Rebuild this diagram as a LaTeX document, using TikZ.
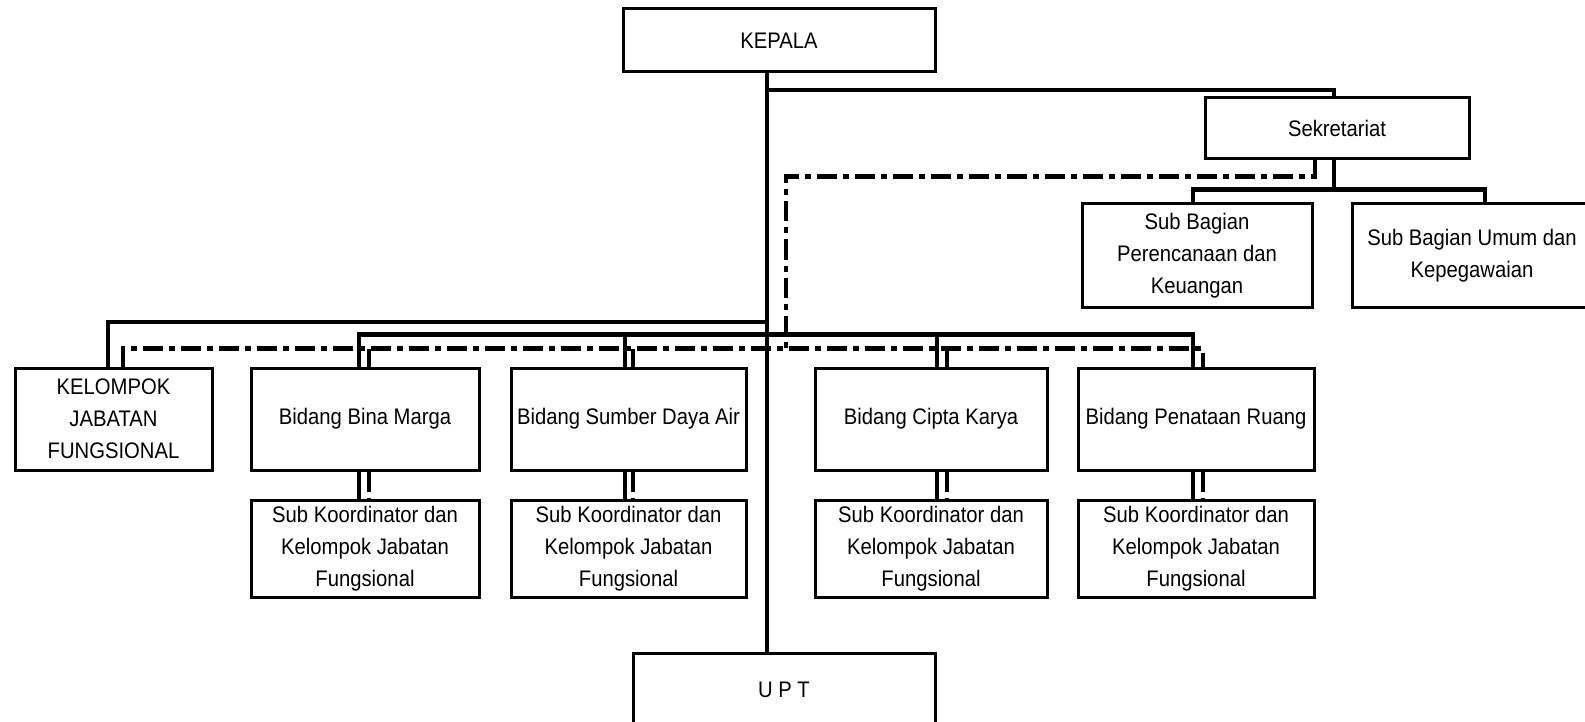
\documentclass[tikz,border=0pt]{standalone}
\usepackage{fontspec}
\setmainfont[FakeStretch=0.9]{Liberation Sans}
\begin{document}
\begin{tikzpicture}[x=1pt,y=-1pt,
  box/.style={draw,line width=3pt,rectangle,align=center,inner sep=0pt,
    font=\fontsize{22.5}{32}\selectfont},
  conn/.style={line width=4.5pt},
  dd/.style={line width=4.5pt,dash pattern=on 20pt off 6pt on 6pt off 6pt}]
\useasboundingbox (0,0) rectangle (1585,722);
\clip (0,0) rectangle (1585,722);
% boxes
\node[box,minimum width=312,minimum height=63] (kepala) at (779,40.5) {KEPALA};
\node[box,minimum width=264,minimum height=61] (sek) at (1337,128.5) {Sekretariat};
\node[box,minimum width=230,minimum height=103] (sbp) at (1197,255.5) {Sub Bagian\\Perencanaan dan\\Keuangan};
\node[box,minimum width=240,minimum height=103] (sbu) at (1472,255.5) {Sub Bagian Umum dan\\Kepegawaian};
\node[box,minimum width=197,minimum height=102] (kjf) at (113.5,419) {KELOMPOK\\JABATAN\\FUNGSIONAL};
\node[box,minimum width=228,minimum height=102] (bbm) at (365,419) {Bidang Bina Marga};
\node[box,minimum width=235,minimum height=102] (bsda) at (628.5,419) {Bidang Sumber Daya Air};
\node[box,minimum width=232,minimum height=102] (bck) at (931,419) {Bidang Cipta Karya};
\node[box,minimum width=236,minimum height=102] (bpr) at (1196,419) {Bidang Penataan Ruang};
\node[box,minimum width=228,minimum height=97] (skbm) at (365,548.5) {Sub Koordinator dan\\Kelompok Jabatan\\Fungsional};
\node[box,minimum width=235,minimum height=97] (sksda) at (628.5,548.5) {Sub Koordinator dan\\Kelompok Jabatan\\Fungsional};
\node[box,minimum width=232,minimum height=97] (skck) at (931,548.5) {Sub Koordinator dan\\Kelompok Jabatan\\Fungsional};
\node[box,minimum width=236,minimum height=97] (skpr) at (1196,548.5) {Sub Koordinator dan\\Kelompok Jabatan\\Fungsional};
\node[box,minimum width=302,minimum height=74] (upt) at (784,690) {U P T};
% junction coordinates
\coordinate (jtop) at (767,90);
\coordinate (jleft) at (767,322);
\coordinate (jdd) at (786,350);
% solid connectors
\draw[conn] ([xshift=-12pt]kepala.south) -- ([xshift=-17pt]upt.north);
\draw[conn] (jtop) -| ([xshift=-3pt]sek.north);
\draw[conn] ([xshift=-3pt]sek.south) -- ++(0,32);
\draw[conn] ([xshift=-4pt]sbp.north) -- ++(0,-13) -| ([xshift=13pt]sbu.north);
\draw[conn] ([xshift=-5.5pt]kjf.north) |- (jleft);
\draw[conn] ([xshift=-6pt]bbm.north) -- ++(0,-32) -| ([xshift=-3pt]bpr.north);
\draw[conn] ([xshift=-3.5pt]bsda.north) -- ++(0,-32);
\draw[conn] ([xshift=6pt]bck.north) -- ++(0,-32);
% dash-dot connectors
\draw[dd] ([xshift=-22pt]sek.south) -- ++(0,16) -| (jdd);
\draw[dd] ([xshift=9.5pt]kjf.north) -- ++(0,-18) -| ([xshift=7pt]bpr.north);
\draw[dd] ([xshift=4pt]bbm.north) -- ++(0,-18);
\draw[dd] ([xshift=4.5pt]bsda.north) -- ++(0,-18);
\draw[dd] ([xshift=16pt]bck.north) -- ++(0,-18);
% bidang to sub koordinator
\draw[conn] ([xshift=-6pt]bbm.south) -- ([xshift=-6pt]skbm.north);
\draw[dd] ([xshift=4pt]bbm.south) -- ([xshift=4pt]skbm.north);
\draw[conn] ([xshift=-3.5pt]bsda.south) -- ([xshift=-3.5pt]sksda.north);
\draw[dd] ([xshift=4.5pt]bsda.south) -- ([xshift=4.5pt]sksda.north);
\draw[conn] ([xshift=6pt]bck.south) -- ([xshift=6pt]skck.north);
\draw[dd] ([xshift=16pt]bck.south) -- ([xshift=16pt]skck.north);
\draw[conn] ([xshift=-3pt]bpr.south) -- ([xshift=-3pt]skpr.north);
\draw[dd] ([xshift=7pt]bpr.south) -- ([xshift=7pt]skpr.north);
\end{tikzpicture}
\end{document}
